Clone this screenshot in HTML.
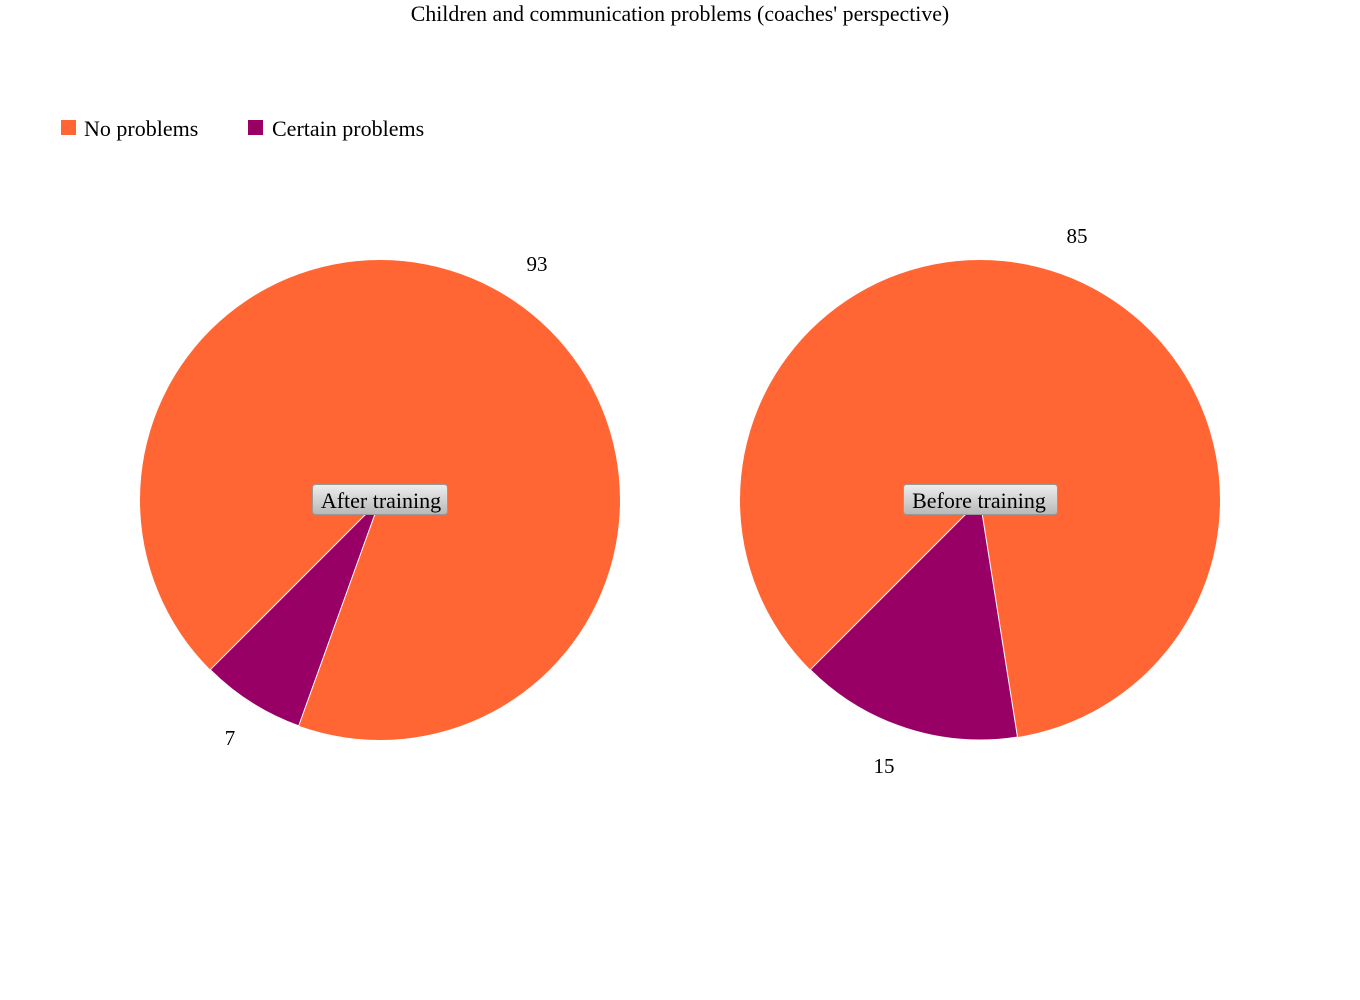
<!DOCTYPE html>
<html><head><meta charset="utf-8"><style>
html,body{margin:0;padding:0;background:#fff;}
svg{display:block;font-family:"Liberation Serif",serif;}
</style></head><body>
<svg width="1360" height="1000" viewBox="0 0 1360 1000" xmlns="http://www.w3.org/2000/svg">
<defs>
<linearGradient id="g" x1="0" y1="0" x2="0" y2="1">
<stop offset="0" stop-color="#eeeeee"/><stop offset="1" stop-color="#b8b8b8"/>
</linearGradient>
</defs>
<text x="680" y="21" font-size="21.8" text-anchor="middle">Children and communication problems (coaches' perspective)</text>
<rect x="61" y="120" width="15" height="15" fill="#ff6633"/>
<text x="84" y="136" font-size="22">No problems</text>
<rect x="248" y="120" width="15" height="15" fill="#990066"/>
<text x="272" y="136" font-size="22">Certain problems</text>

<circle cx="380" cy="500" r="240" fill="#ff6633"/>
<path d="M380,500 L298.7,725.8 A240,240 0 0 1 210.3,669.7 Z" fill="#990066" stroke="#fff" stroke-width="1"/>
<text x="537" y="271" font-size="21" text-anchor="middle">93</text>
<text x="230" y="745" font-size="21" text-anchor="middle">7</text>
<rect x="312.5" y="484.5" width="135" height="30" rx="3" fill="url(#g)" stroke="#999" stroke-width="1"/>
<text x="381" y="508" font-size="22" text-anchor="middle">After training</text>

<circle cx="980" cy="500" r="240" fill="#ff6633"/>
<path d="M980,500 L1017.5,737 A240,240 0 0 1 810.3,669.7 Z" fill="#990066" stroke="#fff" stroke-width="1"/>
<text x="1077" y="243" font-size="21" text-anchor="middle">85</text>
<text x="884" y="773" font-size="21" text-anchor="middle">15</text>
<rect x="903.5" y="484.5" width="154" height="30" rx="3" fill="url(#g)" stroke="#999" stroke-width="1"/>
<text x="979" y="508" font-size="22" text-anchor="middle">Before training</text>
</svg>
</body></html>
